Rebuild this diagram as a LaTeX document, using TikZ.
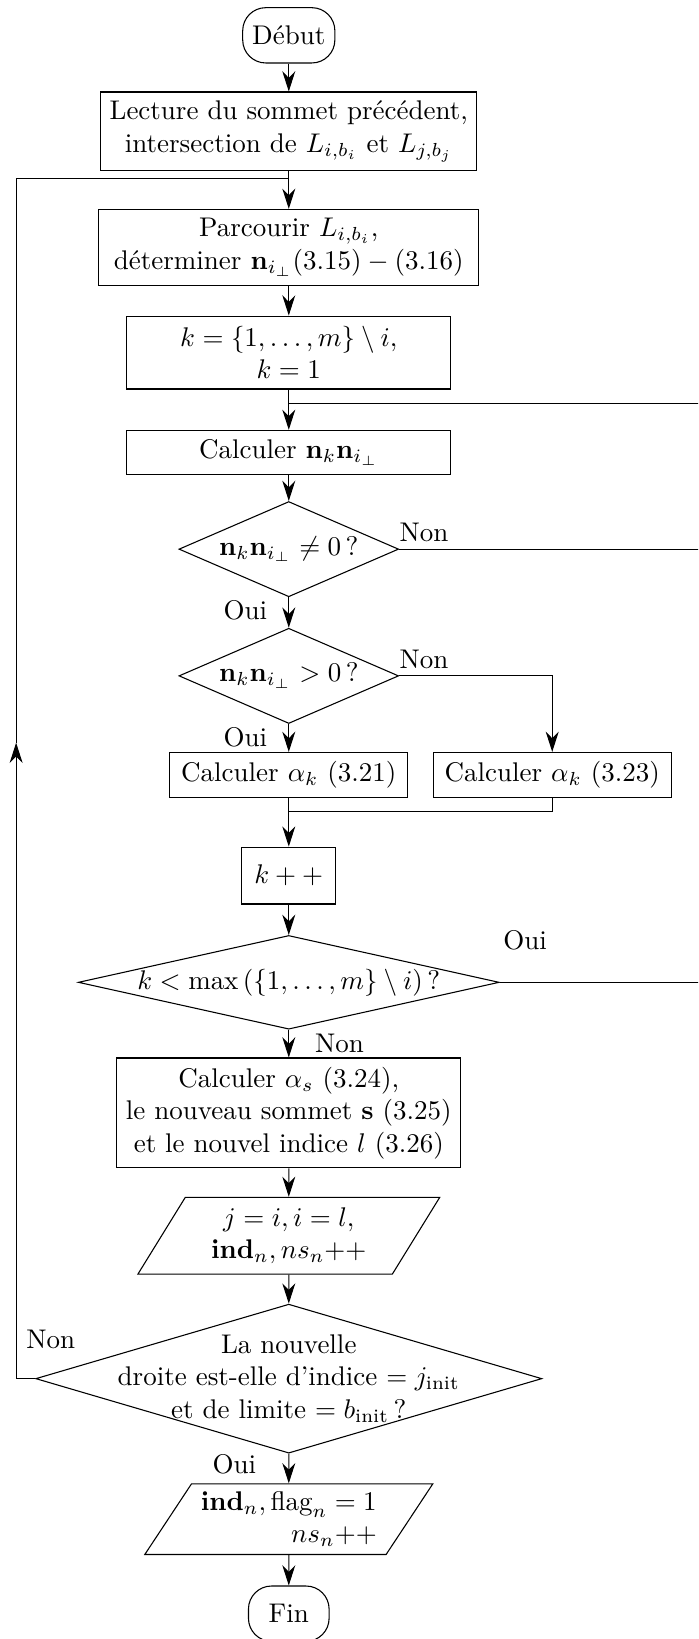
\documentclass[tikz,border=0pt]{standalone}
\usepackage{amsmath,amssymb}
\usetikzlibrary{shapes.geometric,arrows.meta}

\begin{document}
\begin{tikzpicture}[>={Stealth[length=7.5pt,width=4.8pt]},
	block/.style ={rectangle, draw, align=center, minimum height=0.49cm},
	term/.style ={rectangle, draw, rounded corners=0.3cm, minimum width=1.2cm, minimum height=0.72cm},
	decision/.style ={diamond, draw, align=center, inner sep=-1cm},
	io/.style ={trapezium, trapezium left angle=52.5, trapezium right angle=127.5, trapezium stretches body, draw, inner xsep=1pt, inner ysep=1pt},
	lab/.style ={inner sep=0pt}]
	\useasboundingbox (0,0) rectangle (9.09,-21.34);
	\clip (0,0) rectangle (9.09,-21.34);
		\node[term] (debut) at (3.76,-0.46) {Début};
		\node[block] (lecture) at (3.76,-1.71) {Lecture du sommet précédent,\\ intersection de $L_{i,b_i}$ et $L_{j,b_j}$};
		\node[block, minimum width=4.95cm, minimum height=0.94cm] (parcours) at (3.76,-3.22) {Parcourir $L_{i,b_i}$,\\ déterminer $\mathbf{n}_{i_\perp}(3.15)-(3.16)$};
		\node[block, minimum width=4.22cm, minimum height=0.95cm] (init) at (3.76,-4.59) {$k=\{1,\ldots,m\}\setminus i,$\\ $k=1$};
		\node[block, minimum width=4.22cm] (produit) at (3.76,-5.89) {Calculer $\mathbf{n}_k\mathbf{n}_{i_\perp}$};
		\node[decision, minimum width=2.86cm, minimum height=1.24cm] (test1) at (3.76,-7.15) {$\mathbf{n}_k\mathbf{n}_{i_\perp}\neq 0\,?$};
		\node[decision, minimum width=2.86cm, minimum height=1.24cm] (test2) at (3.76,-8.80) {$\mathbf{n}_k\mathbf{n}_{i_\perp}>0\,?$};
		\node[block, minimum width=3.10cm] (alpha1) at (3.76,-10.09) {Calculer $\alpha_k$ (3.21)};
		\node[block, minimum width=3.10cm] (alpha2) at (7.19,-10.09) {Calculer $\alpha_k$ (3.23)};
		\node[block, minimum width=1.22cm, minimum height=0.74cm] (incr) at (3.76,-11.40) {$k++$};
		\node[decision, minimum width=5.48cm, minimum height=1.22cm] (test3) at (3.76,-12.79) {$k<\max\left(\{1,\ldots,m\}\setminus i\right)\,?$};
		\node[block, minimum width=4.45cm, minimum height=1.41cm] (sommet) at (3.76,-14.49) {Calculer $\alpha_s$ (3.24),\\ le nouveau sommet $\mathbf{s}$ (3.25)\\ et le nouvel indice $l$ (3.26)};
		\node[io, align=center, minimum width=3.93cm, minimum height=1.0cm] (maj) at (3.76,-16.09) {$j=i,i=l,$\\ $\mathbf{ind}_n,ns_n{+}{+}$};
		\node[decision, minimum width=6.59cm, minimum height=1.94cm] (test4) at (3.76,-17.95) {La nouvelle\\ droite est-elle d'indice $=j_{\text{init}}$\\ et de limite $=b_{\text{init}}\,?$};
		\node[io, align=right, minimum width=3.75cm, minimum height=0.92cm] (sortie) at (3.76,-19.78) {$\mathbf{ind}_n,\text{flag}_n=1$\\ $ns_n{+}{+}$};
		\node[term, minimum width=1.05cm] (fin) at (3.76,-21.01) {Fin};
		\coordinate (boucle) at (3.76,-2.33);
		\coordinate (retour) at (3.76,-5.25);
		\coordinate (fusion) at (3.76,-10.57);
		\coordinate (gauche) at (0.21,-9.67);
		\coordinate (droite) at (9.40,-5.25);
		\draw[->] (debut) -- (lecture);
		\draw[->] (lecture) -- (parcours);
		\draw[->] (parcours) -- (init);
		\draw[->] (init) -- (produit);
		\draw[->] (produit) -- (test1);
		\draw[->] (test1) -- (test2);
		\draw[->] (test2) -- (alpha1);
		\draw[->] (test2.east) -| (alpha2);
		\draw[->] (alpha1) -- (incr);
		\draw (alpha2) |- (fusion);
		\draw[->] (incr) -- (test3);
		\draw[->] (test3) -- (sommet);
		\draw[->] (sommet) -- (maj);
		\draw[->] (maj) -- (test4);
		\draw[->] (test4) -- (sortie);
		\draw[->] (sortie) -- (fin);
		\draw[->] (test4.west) -| (gauche);
		\draw (gauche) |- (boucle);
		\draw (test1.east) -| (droite) -- (retour);
		\draw (test3.east) -| (droite);
		\node[lab, anchor=south west] (non1) at ([yshift=2.6pt]test1.east) {Non};
		\node[lab, anchor=north east] (oui1) at ([xshift=-7.8pt,yshift=-1.1pt]test1.south) {Oui};
		\node[lab, anchor=south west] (non2) at ([yshift=2.6pt]test2.east) {Non};
		\node[lab, anchor=north east] (oui2) at ([xshift=-7.8pt,yshift=-1.1pt]test2.south) {Oui};
		\node[lab, anchor=south west] (oui3) at ([xshift=1.1pt,yshift=11.9pt]test3.east) {Oui};
		\node[lab, anchor=north west] (non3) at ([xshift=9.6pt,yshift=-1.5pt]test3.south) {Non};
		\node[lab, anchor=south west] (non4) at ([xshift=-3.5pt,yshift=10.9pt]test4.west) {Non};
		\node[lab, anchor=north east] (oui4) at ([xshift=-11.9pt]test4.south) {Oui};
	\end{tikzpicture}
\end{document}
